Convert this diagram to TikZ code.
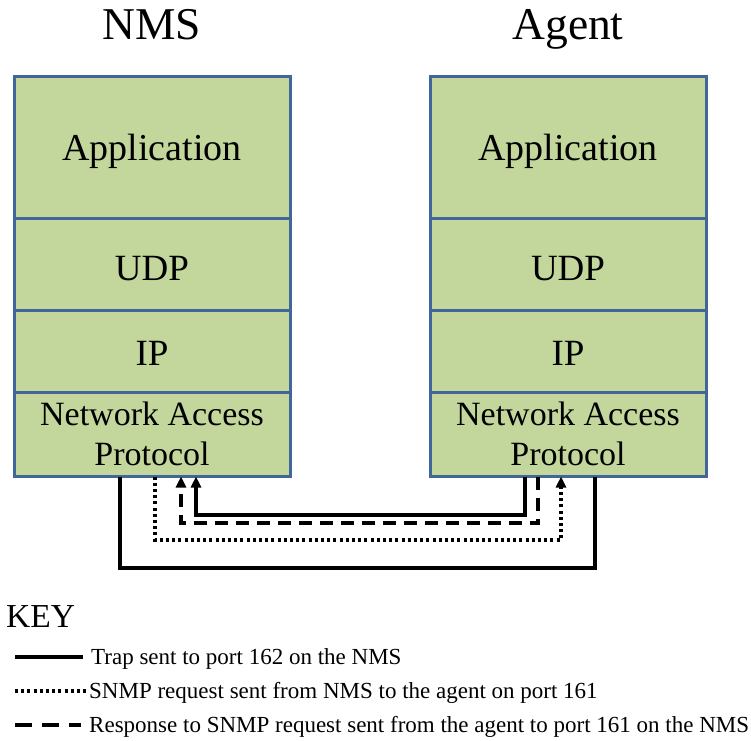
\documentclass[tikz,border=0pt]{standalone}
\usepackage{fontspec}
\setmainfont{Liberation Serif}
\usetikzlibrary{arrows.meta,calc}
\definecolor{layerfill}{HTML}{C3D69B}
\definecolor{layerline}{HTML}{41669A}
\tikzset{
  layer/.style={draw=layerline, line width=3.2pt, fill=layerfill, minimum width=276pt,
    inner sep=0pt, outer sep=0pt, anchor=north west},
  layertext/.style={anchor=base, inner sep=0pt, font=\fontsize{38}{40}\selectfont},
  title/.style={anchor=base, inner sep=0pt, font=\fontsize{45.5}{48}\selectfont},
  wire/.style={line width=3.2pt},
  dotwire/.style={line width=3.2pt, dash pattern=on 3pt off 3.2pt},
  dashwire/.style={line width=3.2pt, dash pattern=on 13pt off 8pt},
  tip/.style={-{Triangle[length=11pt,width=10pt]}},
  keytext/.style={anchor=base west, inner sep=0pt, font=\fontsize{23}{24}\selectfont},
}
\begin{document}
\begin{tikzpicture}[x=1pt,y=-1pt]
\useasboundingbox (0,0) rectangle (751,740);

% titles
\node[title] (tNMS) at (152,39) {NMS};
\node[title] (tAgent) at (568,39) {Agent};

% protocol stacks
\foreach \s/\x/\c in {L/14.5/152,R/430.5/568}{
  \node[layer, minimum height=142pt] (app\s) at (\x,76.5) {};
  \node[layer, minimum height=92pt]  (udp\s) at (\x,218.5) {};
  \node[layer, minimum height=82pt]  (ip\s)  at (\x,310.5) {};
  \node[layer, minimum height=84pt]  (nap\s) at (\x,392.5) {};
  \node[layertext] (appt\s) at (\c,160) {Application};
  \node[layertext, font=\fontsize{37}{40}\selectfont] (udpt\s) at (\c,280) {UDP};
  \node[layertext, font=\fontsize{37}{40}\selectfont] (ipt\s)  at (\c,365) {IP};
  \node[layertext, font=\fontsize{34}{40}\selectfont] (napt\s) at (\c,425) {Network Access};
  \node[layertext, font=\fontsize{34}{40}\selectfont] (prot\s) at (\c,465) {Protocol};
}

% attachment points on the bottom of each stack
\coordinate (Ls) at (120,476.5);
\coordinate (Ld) at (155,476.5);
\coordinate (Lm) at (181,476.5);
\coordinate (Lt) at (196,476.5);
\coordinate (Rt) at (525,476.5);
\coordinate (Rm) at (538,476.5);
\coordinate (Rd) at (561,476.5);
\coordinate (Rs) at (595,476.5);

% connectors between the stacks
\draw[wire] (Ls) -- ++(0,91.5) -| (Rs);
\draw[dotwire, tip] (Ld) -- ++(0,63.5) -| (Rd);
\draw[dashwire, tip] (Rm) -- ++(0,46.5) -| (Lm);
\draw[wire, tip] (Rt) -- ++(0,38.5) -| (Lt);

% key
\node[anchor=base west, inner sep=0pt, font=\fontsize{33.5}{36}\selectfont] (key) at (6,627) {KEY};
\coordinate (k1a) at (15,657);  \coordinate (k1b) at (83,657);
\coordinate (k2a) at (15,691);  \coordinate (k2b) at (86,691);
\coordinate (k3a) at (15,725);  \coordinate (k3b) at (81,725);
\draw[wire] (k1a) -- (k1b);
\draw[dotwire] (k2a) -- (k2b);
\draw[wire, dash pattern=on 17pt off 10pt] (k3a) -- (k3b);
\node[keytext] (kt1) at (91,664) {Trap sent to port 162 on the NMS};
\node[keytext] (kt2) at (89,698) {SNMP request sent from NMS to the agent on port 161};
\node[keytext] (kt3) at (89,732) {Response to SNMP request sent from the agent to port 161 on the NMS};
\end{tikzpicture}
\end{document}
